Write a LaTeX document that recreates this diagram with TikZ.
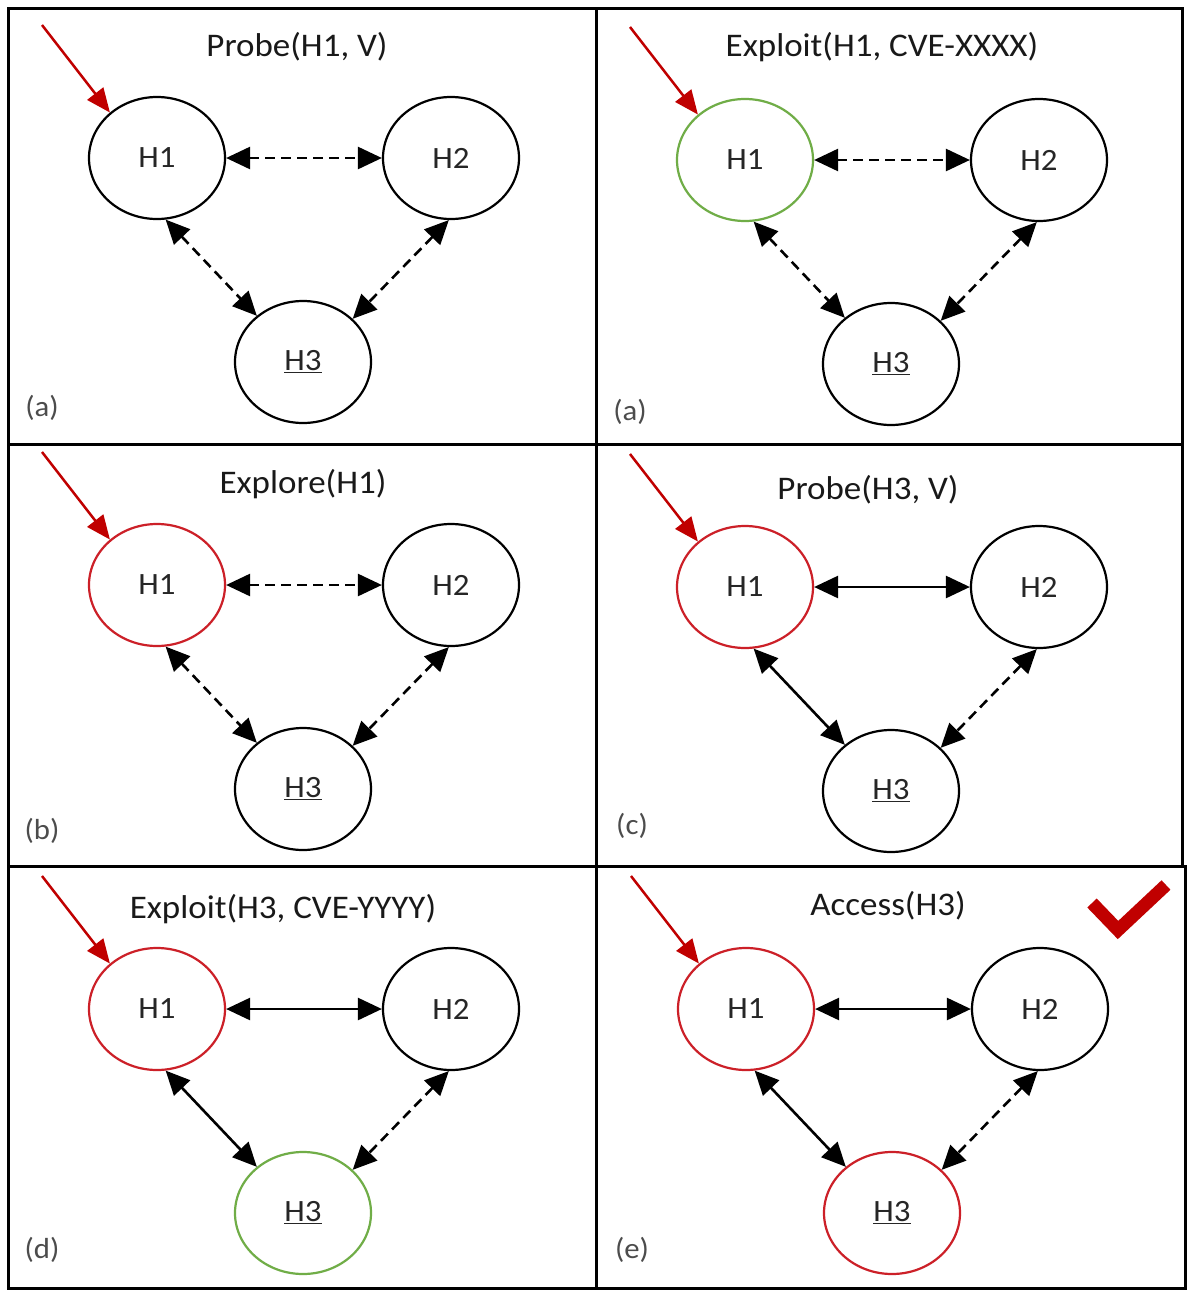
\documentclass[tikz,border=0pt]{standalone}
\usepackage{fontspec}
\setmainfont{Carlito}[FakeStretch=1.06]
\usetikzlibrary{arrows.meta,shapes.geometric}
\definecolor{okgreen}{RGB}{112,173,71}
\definecolor{hotred}{RGB}{204,32,40}
\definecolor{darkred}{RGB}{192,0,0}
\tikzset{
  hnode/.style={ellipse,draw=black,line width=2.2pt,minimum width=136pt,minimum height=122pt,inner sep=0pt,
    font=\fontsize{31}{36}\selectfont,text=black!85},
  edge/.style={line width=2.6pt,>={Triangle[length=24pt,width=22pt]},<->},
  dsh/.style={dash pattern=on 10pt off 6pt},
  sld/.style={solid},
  startarrow/.style={line width=2.5pt,draw=darkred,-{Triangle[length=24pt,width=20pt]}},
  ttl/.style={font=\fontsize{33}{38}\selectfont,text=black!90},
  plabel/.style={font=\fontsize{29}{34}\selectfont,text=black!70},
  frame/.style={line width=3pt,draw=black},
  tick/.style={line width=13pt,draw=darkred,line join=miter}
}
\newcommand{\drawpanel}[8]{%
  \begin{scope}[shift={(#2,#3)}]
    \node[hnode,draw=#4] (#1h1) at (157,158) {H1};
    \node[hnode] (#1h2) at (451,158) {H2};
    \node[hnode,draw=#5] (#1h3) at (303,362) {\underline{H3}};
    \coordinate (#1s) at (42,25);
    \draw[startarrow] (#1s) -- (#1h1.136);
    \draw[edge,#6] (#1h1) -- (#1h2);
    \draw[edge,#7] (#1h1.-82) -- (#1h3.135);
    \draw[edge,#8] (#1h2.-92) -- (#1h3.41);
  \end{scope}}
\begin{document}
\begin{tikzpicture}[x=1pt,y=-1pt]
  \useasboundingbox[fill=white] (0,0) rectangle (1196,1299);
  % frames
  \draw[frame] (8,8) rectangle (1182,866);
  \draw[frame] (8,866) rectangle (1185,1288);
  \draw[frame] (8,444) -- (1182,444);
  \draw[frame] (596,8) -- (596,1288);
  % panels
  \drawpanel{pa}{0}{0}{black}{black}{dsh}{dsh}{dsh}
  \drawpanel{pb}{588}{2}{okgreen}{black}{dsh}{dsh}{dsh}
  \drawpanel{pc}{0}{427}{hotred}{black}{dsh}{dsh}{dsh}
  \drawpanel{pd}{588}{429}{hotred}{black}{sld}{sld}{dsh}
  \drawpanel{pe}{0}{851}{hotred}{okgreen}{sld}{sld}{dsh}
  \drawpanel{pf}{589}{851}{hotred}{hotred}{sld}{sld}{dsh}
  % titles
  \node[ttl] (t1) at (297,47) {Probe(H1, V)};
  \node[ttl] (t2) at (882,47) {Exploit(H1, CVE-XXXX)};
  \node[ttl] (t3) at (303,484) {Explore(H1)};
  \node[ttl] (t4) at (868,490) {Probe(H3, V)};
  \node[ttl] (t5) at (283,909) {Exploit(H3, CVE-YYYY)};
  \node[ttl] (t6) at (888,906) {Access(H3)};
  % panel labels
  \node[plabel] (l1) at (42,408) {(a)};
  \node[plabel] (l2) at (630,412) {(a)};
  \node[plabel] (l3) at (42,831) {(b)};
  \node[plabel] (l4) at (632,826) {(c)};
  \node[plabel] (l5) at (42,1250) {(d)};
  \node[plabel] (l6) at (632,1250) {(e)};
  % check mark
  \draw[tick] (1092,903) -- (1118,930) -- (1166,885);
\end{tikzpicture}
\end{document}
